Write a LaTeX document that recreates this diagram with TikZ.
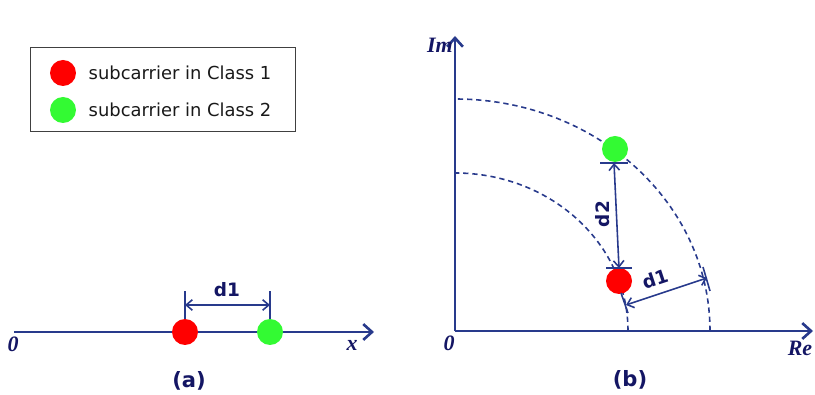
\documentclass[tikz,border=0pt]{standalone}
\usepackage{fontspec}
\setmainfont{Liberation Serif}
\newfontfamily\legfont{DejaVu Sans}
\usepackage{tikz}
\usetikzlibrary{positioning,arrows.meta,calc}

\definecolor{axisblue}{RGB}{40,58,140}
\definecolor{labnavy}{RGB}{20,22,100}
\definecolor{dotred}{RGB}{255,0,0}
\definecolor{dotgreen}{RGB}{51,250,51}

\begin{document}
\begin{tikzpicture}[
  x=0.02cm,y=0.02cm,
  axis/.style={draw=axisblue,line width=1.6pt,-{Straight Barb[length=5pt,width=9pt,line width=1.5pt]}},
  dimline/.style={draw=axisblue,line width=0.9pt},
  dimarrow/.style={draw=axisblue,line width=0.9pt,
                   {Straight Barb[length=3.5pt,width=6pt]}-{Straight Barb[length=3.5pt,width=6pt]}},
  ring/.style={draw=axisblue,line width=0.9pt,dash pattern=on 3pt off 2.2pt},
  reddot/.style={circle,fill=dotred,minimum size=0.52cm,inner sep=0pt},
  greendot/.style={circle,fill=dotgreen,minimum size=0.52cm,inner sep=0pt},
  axlab/.style={font=\fontsize{12.5}{14}\selectfont\bfseries\itshape,text=labnavy,inner sep=0pt},
  dimlab/.style={font=\legfont\fontsize{10.5}{12}\selectfont\bfseries,text=labnavy,inner sep=0pt},
  caplab/.style={font=\legfont\fontsize{12}{14}\selectfont\bfseries,text=labnavy,inner sep=0pt},
  legtext/.style={font=\legfont\fontsize{10.2}{12}\selectfont,text=black!90,anchor=west,inner sep=0pt},
]
  \useasboundingbox (0,0) rectangle (815,395);

  % legend
  \node[draw=black!75,line width=0.5pt,minimum width=5.3cm,minimum height=1.68cm,inner sep=0pt] (legend) at (162.5,306) {};
  \node[reddot] (legred) at (63,322) {};
  \node[greendot] (leggreen) at (63,285) {};
  \node[legtext,right=0.24cm of legred] (legredtxt) {subcarrier in Class 1};
  \node[legtext,right=0.24cm of leggreen] (leggreentxt) {subcarrier in Class 2};

  % (a) one-dimensional
  \coordinate (xstart) at (14,63);
  \coordinate (xend) at (374,63);
  \draw[axis] (xstart) -- (xend);
  \node[axlab] (zeroa) at (13,51) {0};
  \node[axlab] (xlab) at (352,50) {x};
  \node[reddot] (ra) at (185,63) {};
  \node[greendot] (ga) at (270,63) {};
  \coordinate (ratop) at (185,104);
  \coordinate (gatop) at (270,104);
  \draw[dimline] (ra.north) -- (ratop);
  \draw[dimline] (ga.north) -- (gatop);
  \coordinate (da1) at (185,90);
  \coordinate (da2) at (270,90);
  \draw[dimarrow] (da1) -- (da2);
  \node[dimlab] (d1a) at (227,105) {d1};
  \node[caplab] (capa) at (189,14) {(a)};

  % (b) complex plane
  \coordinate (O) at (455,64);
  \coordinate (imend) at (455,359);
  \coordinate (reend) at (813,64);
  \draw[ring] (628,64) arc[start angle=0,end angle=90,x radius=173,y radius=158];
  \draw[ring] (710,64) arc[start angle=0,end angle=90,x radius=255,y radius=232];
  \draw[axis] (O) -- (imend);
  \draw[axis] (O) -- (reend);
  \node[axlab,anchor=east] (imlab) at (453,350) {Im};
  \node[axlab] (zerob) at (449,52) {0};
  \node[axlab] (relab) at (800,47) {Re};
  \node[greendot] (gb) at (615,246) {};
  \node[reddot] (rb) at (619,114) {};

  \coordinate (d2top) at (614,232);
  \coordinate (d2bot) at (619,127);
  \draw[dimline] ($(d2top)+(-14,0)$) -- ($(d2top)+(14,0)$);
  \draw[dimline] ($(d2bot)+(-13,0)$) -- ($(d2bot)+(13,0)$);
  \draw[dimarrow] (d2top) -- (d2bot);
  \node[dimlab,rotate=90] (d2b) at (603,181) {d2};

  \coordinate (inA) at (621,102);
  \coordinate (inB) at (628,82);
  \coordinate (outA) at (703,128);
  \coordinate (outB) at (710,104);
  \draw[dimline] (inA) -- (inB);
  \draw[dimline] (outA) -- (outB);
  \coordinate (db1) at (626,90);
  \coordinate (db2) at (707,117);
  \draw[dimarrow] (db1) -- (db2);
  \node[dimlab,rotate=18.4] (d1b) at (655,116) {d1};
  \node[caplab] (capb) at (630,15) {(b)};
\end{tikzpicture}
\end{document}
